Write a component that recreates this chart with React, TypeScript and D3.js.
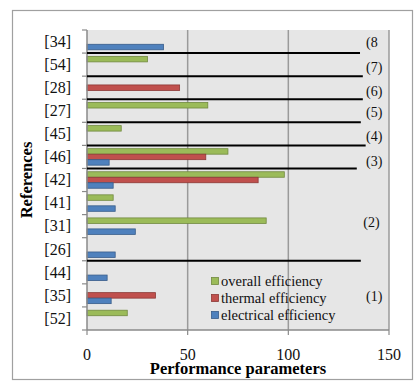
import React from "react";
import * as d3 from "d3";

const categories = ["[34]", "[54]", "[28]", "[27]", "[45]", "[46]", "[42]", "[41]", "[31]", "[26]", "[44]", "[35]", "[52]"];
const seriesNames = ["overall efficiency", "thermal efficiency", "electrical efficiency"];
const overall = [null, 30, null, 60, 17, 70, 98, 13, 89, null, null, null, 20];
const thermal = [null, null, 46, null, null, 59, 85, null, null, null, null, 34, null];
const electrical = [38, null, null, null, null, 11, 13, 14, 24, 14, 10, 12, null];
const xTicks = [0, 50, 100, 150];
const seriesFill = ["#9BBB59", "#C0504D", "#4F81BD"];
const seriesStroke = ["#71893F", "#8C3836", "#385D8A"];

// Group separators: boundary index between categories, right end in value units
const sepAt = [1, 2, 3, 4, 5, 6, 10];
const sepEnd = [135.6, 137, 137, 136, 138.4, 134, 136];
// Group labels: text, position in category units, x in value units
const groupLabels = ["(8", "(7)", "(6)", "(5)", "(4)", "(3)", "(2)", "(1)"];
const groupLabelPos = [0.54, 1.62, 2.67, 3.58, 4.59, 5.68, 8.33, 11.56];
const groupLabelX = [138.6, 138.6, 138.6, 138.6, 138.6, 138.6, 137.2, 138.6];

export default function App() {
  const W = 420, H = 387;
  const left = 87, right = 389, top = 30, bottom = 330;
  const x = d3.scaleLinear().domain([0, 150]).range([left, right]);
  const y0 = d3.scaleBand<string>().domain(categories).range([top, bottom]).padding(0);
  const y1 = d3.scaleBand<string>().domain(seriesNames).range([0, y0.bandwidth()]).paddingInner(0).paddingOuter(0.6);
  const step = y0.step();
  const catPos = (p: number) => top + p * step;
  const values = [overall, thermal, electrical];
  const serif = "'Liberation Serif', 'Times New Roman', serif";

  return (
    <svg width={W} height={H} style={{ position: "absolute", left: 0, top: 0, fontFamily: serif }}>
      <rect x={0} y={0} width={W} height={H} fill="#fff" />
      <rect x={12.5} y={10.5} width={400} height={369} fill="none" stroke="#a0a0a0" strokeWidth={1.2} />
      <rect x={left} y={top} width={right - left} height={bottom - top} fill="#e6e6e6" />
      {xTicks.filter(t => t > 0).map(t => (
        <line key={"g" + t} x1={x(t)} x2={x(t)} y1={top} y2={bottom} stroke="#9a9a9a" strokeWidth={1.5} />
      ))}
      {/* bars */}
      {values.map((arr, si) =>
        arr.map((v, ci) =>
          v == null ? null : (
            <rect
              key={si + "-" + ci}
              x={x(0)}
              y={(y0(categories[ci]) as number) + (y1(seriesNames[si]) as number)}
              width={x(v) - x(0)}
              height={y1.bandwidth()}
              fill={seriesFill[si]}
              stroke={seriesStroke[si]}
              strokeWidth={0.8}
            />
          )
        )
      )}
      {/* axes */}
      <line x1={left} x2={left} y1={top} y2={bottom} stroke="#8a8a8a" strokeWidth={1.5} />
      <line x1={left} x2={right} y1={bottom} y2={bottom} stroke="#8a8a8a" strokeWidth={1.5} />
      {d3.range(categories.length + 1).map(i => (
        <line key={"yt" + i} x1={left - 5} x2={left} y1={catPos(i)} y2={catPos(i)} stroke="#8a8a8a" strokeWidth={1.2} />
      ))}
      {xTicks.map(t => (
        <line key={"xt" + t} x1={x(t)} x2={x(t)} y1={bottom} y2={bottom + 5} stroke="#8a8a8a" strokeWidth={1.2} />
      ))}
      {categories.map(c => (
        <text key={"yl" + c} x={71} y={(y0(c) as number) + step / 2} dy="0.33em" textAnchor="end" fontSize={16} fill="#111">
          {c}
        </text>
      ))}
      {xTicks.map(t => (
        <text key={"xl" + t} x={x(t)} y={360} textAnchor="middle" fontSize={16} fill="#111">
          {t}
        </text>
      ))}
      {/* separators */}
      {sepAt.map((s, i) => (
        <line key={"s" + i} x1={left} x2={x(sepEnd[i])} y1={catPos(s)} y2={catPos(s)} stroke="#000" strokeWidth={2} />
      ))}
      {groupLabels.map((g, i) => (
        <text key={"gl" + i} x={x(groupLabelX[i])} y={catPos(groupLabelPos[i])} dy="0.33em" fontSize={14} fill="#111">
          {g}
        </text>
      ))}
      {/* legend */}
      {seriesNames.map((n, i) => (
        <g key={"lg" + i}>
          <rect x={211.5} y={277.5 + i * 17} width={7} height={7} fill={seriesFill[i]} stroke={seriesStroke[i]} strokeWidth={0.8} />
          <text x={221} y={281 + i * 17} dy="0.33em" fontSize={14.5} fill="#111">
            {n}
          </text>
        </g>
      ))}
      <text x={238} y={373.5} textAnchor="middle" fontSize={16.5} fontWeight="bold" fill="#000">
        Performance parameters
      </text>
      <text transform="translate(32,180) rotate(-90)" textAnchor="middle" fontSize={16.5} fontWeight="bold" fill="#000">
        References
      </text>
    </svg>
  );
}
